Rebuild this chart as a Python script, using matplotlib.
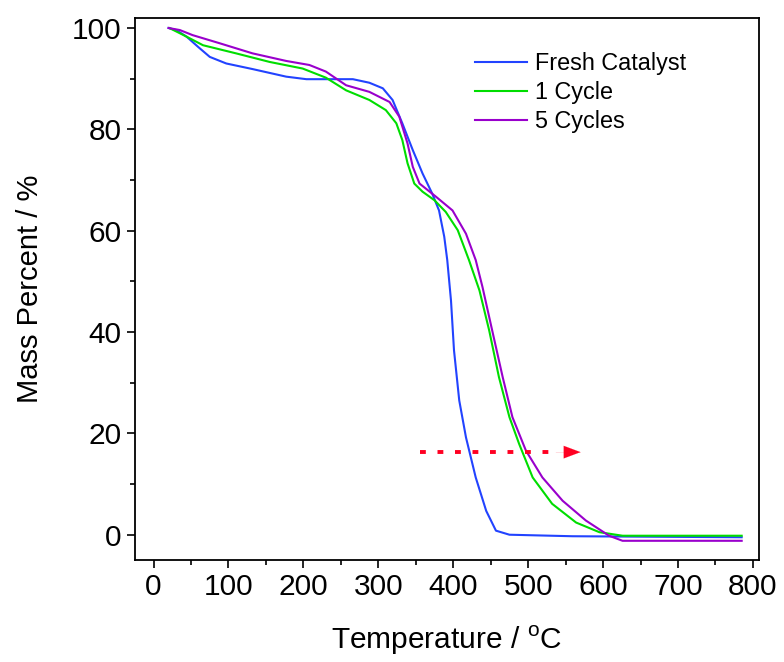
import matplotlib
matplotlib.use("Agg")
import matplotlib.pyplot as plt
from matplotlib.ticker import MultipleLocator

plt.rcParams["font.family"] = ["Liberation Sans", "DejaVu Sans"]
plt.rcParams["mathtext.fontset"] = "custom"
plt.rcParams["mathtext.rm"] = "Liberation Sans"

# TGA curves
fresh_t = [20, 30, 44, 60, 75, 97, 132, 177, 204, 240, 266, 288, 306, 319, 332, 346,
           359, 372, 381, 388, 392, 397, 401, 408, 417, 430, 444, 457, 475, 559, 785]
fresh_m = [100, 99.6, 98.3, 96.2, 94.3, 93, 91.9, 90.4, 89.9, 89.9, 89.9, 89.2, 88.1, 85.8, 81.2, 75.9,
           71.3, 67.3, 64, 58.8, 54.2, 46.2, 36.4, 26.5, 19.2, 11.3, 4.7, 0.8, 0, -0.3, -0.5]

cyc1_t = [21, 40, 66, 110, 155, 199, 230, 257, 288, 310, 324, 332, 339, 348, 359,
          375, 390, 406, 421, 435, 448, 461, 475, 488, 506, 532, 564, 595, 626, 785]
cyc1_m = [100, 98.6, 96.6, 95, 93.3, 92, 90.2, 87.7, 85.8, 83.8, 81.2, 77.9, 73.3, 69.3, 67.7,
          66, 63.7, 60.1, 54.2, 48.2, 40.3, 31.1, 23.2, 17.9, 11.3, 6.1, 2.4, 0.5, -0.2, -0.2]

cyc5_t = [20, 35, 52, 88, 132, 177, 208, 230, 257, 288, 315, 328, 339, 346, 355,
          377, 399, 417, 430, 439, 452, 466, 479, 497, 519, 546, 577, 608, 626, 785]
cyc5_m = [100, 99.6, 98.6, 97, 95, 93.5, 92.7, 91.4, 88.7, 87.4, 85.4, 82.5, 77.2, 72.6, 69.3,
          66.7, 64, 59.4, 54.2, 48.9, 40.3, 31.1, 23.2, 16.6, 11.3, 6.7, 2.8, -0.2, -1.2, -1.2]

labels = ["Fresh Catalyst", "1 Cycle", "5 Cycles"]
colors = ["#2243ff", "#00dd00", "#9900cc"]

fig = plt.figure(figsize=(7.84, 6.62), dpi=100)
ax = fig.add_axes([0.172, 0.154, 0.796, 0.819])

for t, m, lab, c in zip([fresh_t, cyc1_t, cyc5_t], [fresh_m, cyc1_m, cyc5_m], labels, colors):
    ax.plot(t, m, color=c, lw=1.5, label=lab, solid_joinstyle="round")

# red dotted shift arrow
ax.plot([355, 540], [16.3, 16.3], color="#ff0022", lw=2.8, linestyle=(0, (1.5, 3)), dash_capstyle="butt")
ax.annotate("", xy=(570, 16.3), xytext=(537, 16.3),
            arrowprops=dict(arrowstyle="-|>,head_length=1.2,head_width=0.45",
                            color="#ff0022", lw=0.1, shrinkA=0, shrinkB=0))

ax.set_xlim(-25, 808)
ax.set_ylim(-5, 102)
ax.xaxis.set_major_locator(MultipleLocator(100))
ax.xaxis.set_minor_locator(MultipleLocator(50))
ax.yaxis.set_major_locator(MultipleLocator(20))
ax.yaxis.set_minor_locator(MultipleLocator(10))
ax.tick_params(which="both", direction="out", top=False, right=False, labelsize=21.5, width=1.2)
ax.tick_params(which="major", length=6)
ax.tick_params(which="minor", length=3.5)
for s in ax.spines.values():
    s.set_linewidth(1.3)

ax.set_xlabel("Temperature / $^{\\rm o}$C", fontsize=21.5, labelpad=16)
ax.set_ylabel("Mass Percent / %", fontsize=21, labelpad=20)

ax.legend(loc="upper left", bbox_to_anchor=(0.545, 0.937), frameon=False, fontsize=16.8,
          handlelength=2.23, handletextpad=0.35, labelspacing=0.25, borderpad=0, borderaxespad=0)

fig.savefig("out.png", dpi=100)
